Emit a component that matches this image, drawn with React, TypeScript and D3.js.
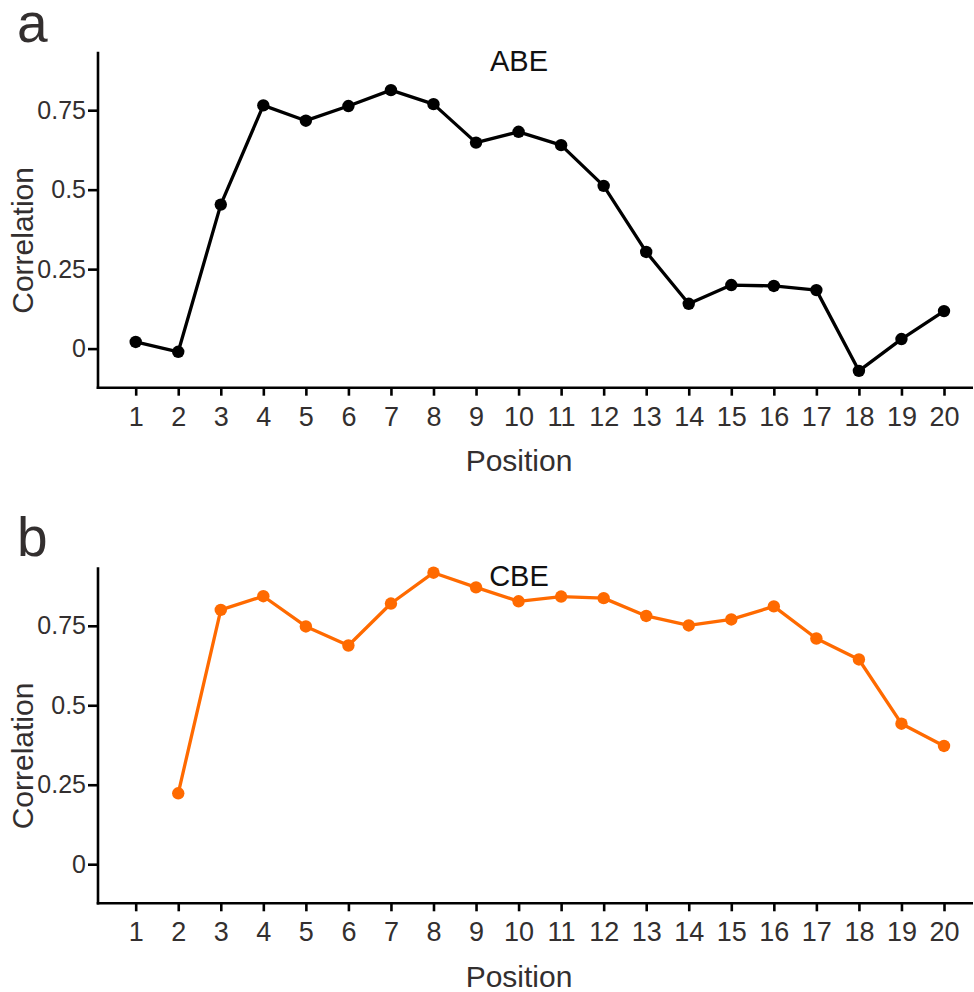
import React, { useEffect, useRef } from 'react';
import * as d3 from 'd3';

// positions 1..20 on the x axis
const positions: number[] = d3.range(1, 21);

// correlation values (null = no point)
const abeValues: (number | null)[] = [
  0.021, -0.01, 0.453, 0.765, 0.717, 0.763, 0.813, 0.769, 0.648, 0.682,
  0.64, 0.512, 0.304, 0.141, 0.2, 0.197, 0.184, -0.07, 0.03, 0.118,
];
const cbeValues: (number | null)[] = [
  null, 0.223, 0.8, 0.843, 0.748, 0.688, 0.82, 0.917, 0.871, 0.827,
  0.842, 0.837, 0.781, 0.751, 0.77, 0.811, 0.71, 0.644, 0.442, 0.372,
];
const yTicks: number[] = [0, 0.25, 0.5, 0.75];
const yTickLabels: string[] = ['0', '0.25', '0.5', '0.75'];

const panels = [
  { letter: 'a', title: 'ABE', values: abeValues, color: '#000000', top: 0 },
  { letter: 'b', title: 'CBE', values: cbeValues, color: '#ff6a00', top: 515.6 },
];

const FONT = 'Liberation Sans, Arial, sans-serif';
const TEXT = '#332f2f';

const App = () => {
  const svgRef = useRef<SVGSVGElement>(null);

  useEffect(() => {
    const svg = d3.select(svgRef.current);
    svg.selectAll('*').remove();

    const x = d3.scaleLinear().domain([1, 20]).range([135.7, 944]);
    const axisLeftX = 98;
    const axisRightX = 973;

    panels.forEach((p) => {
      const y = d3.scaleLinear().domain([-0.123, 0.934]).range([387.7, 51.7]);
      const g = svg.append('g').attr('transform', `translate(0,${p.top})`);

      // panel letter
      g.append('text')
        .attr('x', 17)
        .attr('y', p.letter === 'a' ? 42 : 40.5)
        .style('font-family', FONT)
        .style('font-size', '55px')
        .style('fill', TEXT)
        .text(p.letter);

      // title
      g.append('text')
        .attr('x', 519)
        .attr('y', 70.5)
        .attr('text-anchor', 'middle')
        .style('font-family', FONT)
        .style('font-size', '29px')
        .style('fill', '#111')
        .text(p.title);

      // y axis
      const yAxis = g.append('g')
        .attr('transform', `translate(${axisLeftX},0)`)
        .call(
          d3.axisLeft(y)
            .tickValues(yTicks)
            .tickFormat((d, i) => yTickLabels[i])
            .tickSize(10)
            .tickPadding(2)
            .tickSizeOuter(0)
        );
      yAxis.select('.domain').remove();
      yAxis.append('line')
        .attr('x1', 0).attr('x2', 0)
        .attr('y1', y.range()[1]).attr('y2', y.range()[0] + 1.3)
        .attr('stroke', '#000').attr('stroke-width', 2.6);
      yAxis.selectAll('.tick line').attr('stroke', '#000').attr('stroke-width', 2.6);
      yAxis.selectAll('.tick text')
        .style('font-family', FONT)
        .style('font-size', '25px')
        .style('fill', TEXT);

      // x axis
      const xAxis = g.append('g')
        .attr('transform', `translate(0,${y.range()[0]})`)
        .call(
          d3.axisBottom(x)
            .tickValues(positions)
            .tickFormat(d3.format('d'))
            .tickSize(8)
            .tickPadding(11)
            .tickSizeOuter(0)
        );
      xAxis.select('.domain').remove();
      xAxis.append('line')
        .attr('x1', axisLeftX - 1.3).attr('x2', axisRightX)
        .attr('y1', 0).attr('y2', 0)
        .attr('stroke', '#000').attr('stroke-width', 2.6);
      xAxis.selectAll('.tick line').attr('stroke', '#000').attr('stroke-width', 2.6);
      xAxis.selectAll('.tick text')
        .style('font-family', FONT)
        .style('font-size', '27px')
        .style('fill', TEXT);

      // axis titles
      g.append('text')
        .attr('x', 519)
        .attr('y', 471)
        .attr('text-anchor', 'middle')
        .style('font-family', FONT)
        .style('font-size', '30px')
        .style('fill', TEXT)
        .text('Position');

      g.append('text')
        .attr('transform', `translate(33,${(y(0) + y(0.75)) / 2 + 11}) rotate(-90)`)
        .attr('text-anchor', 'middle')
        .style('font-family', FONT)
        .style('font-size', '30px')
        .style('fill', TEXT)
        .text('Correlation');

      // line and points
      const pts = positions
        .map((pos, i) => ({ pos, v: p.values[i] }))
        .filter((d) => d.v !== null) as { pos: number; v: number }[];

      const line = d3.line<{ pos: number; v: number }>()
        .x((d) => x(d.pos))
        .y((d) => y(d.v));

      g.append('path')
        .datum(pts)
        .attr('d', line)
        .attr('fill', 'none')
        .attr('stroke', p.color)
        .attr('stroke-width', 3.3)
        .attr('stroke-linejoin', 'round');

      g.selectAll('.dot')
        .data(pts)
        .enter()
        .append('circle')
        .attr('class', 'dot')
        .attr('cx', (d) => x(d.pos))
        .attr('cy', (d) => y(d.v))
        .attr('r', 6.2)
        .attr('fill', p.color);
    });
  }, []);

  return (
    <svg
      ref={svgRef}
      width={974}
      height={992}
      style={{ position: 'absolute', left: 0, top: 0, background: '#fff' }}
    ></svg>
  );
};

export default App;
